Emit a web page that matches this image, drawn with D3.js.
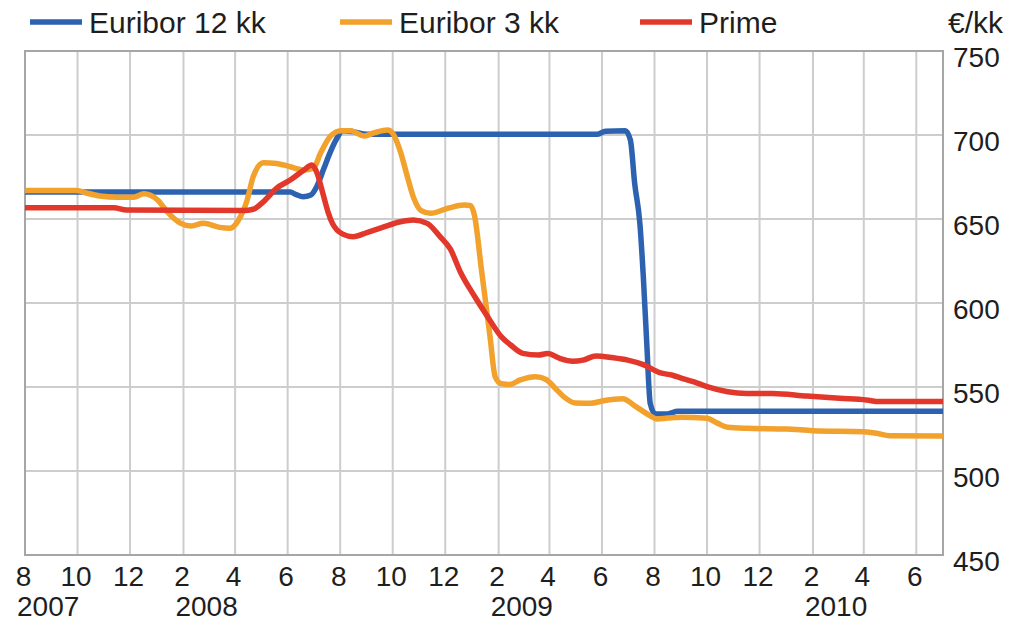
<!DOCTYPE html>
<html>
<head>
<meta charset="utf-8">
<script src="https://cdn.jsdelivr.net/npm/d3@7/dist/d3.min.js"></script>
<style>
  html, body { margin: 0; padding: 0; background: #fff; }
  svg { display: block; font-family: "Liberation Sans", Arial, sans-serif; }
</style>
</head>
<body>
<svg id="chart" width="1017" height="624"></svg>
<script>
// ---- Data ----
const seriesNames = ["Euribor 12 kk", "Euribor 3 kk", "Prime"];
const unitLabel = "€/kk";

const euribor12Dates = ["2007-08-01","2008-06-04","2008-06-11","2008-06-19","2008-06-28","2008-07-05","2008-07-13","2008-07-19","2008-07-27","2008-08-04","2008-08-16","2008-09-01","2009-05-27","2009-06-05","2009-06-28","2009-07-04","2009-07-09","2009-07-15","2009-07-19","2009-07-23","2009-07-27","2009-08-02","2009-08-16","2009-08-28","2010-07-02"];
const euribor12Values = [666,666,664.5,663.3,664.3,669.5,680,688,697,702.6,702,700.5,700.5,702.3,702.6,697,671,647.4,615.7,576,540.3,533.9,534,535.5,535.5];

const euribor3Dates = ["2007-08-01","2007-09-30","2007-10-11","2007-10-27","2007-11-16","2007-12-05","2007-12-17","2008-01-02","2008-01-13","2008-01-29","2008-02-10","2008-02-24","2008-03-14","2008-03-26","2008-04-05","2008-04-15","2008-04-22","2008-05-04","2008-05-19","2008-06-04","2008-06-20","2008-07-01","2008-07-09","2008-07-21","2008-08-02","2008-08-13","2008-08-29","2008-09-10","2008-09-25","2008-10-01","2008-10-10","2008-10-18","2008-10-25","2008-11-03","2008-11-14","2008-12-04","2008-12-23","2008-12-30","2009-01-04","2009-01-12","2009-01-22","2009-01-28","2009-02-04","2009-02-14","2009-02-26","2009-03-16","2009-03-28","2009-04-10","2009-04-17","2009-05-01","2009-05-19","2009-06-04","2009-06-25","2009-07-10","2009-07-25","2009-08-04","2009-08-16","2009-09-01","2009-10-01","2009-10-13","2009-10-25","2009-11-16","2010-01-01","2010-02-01","2010-04-01","2010-04-16","2010-05-01","2010-07-02"];
const euribor3Values = [667,667,665.5,663.7,663,663,665,661.3,654.4,647.4,645.8,647.4,645,644.5,649.4,661.3,675.2,683.5,683.1,681.1,679.2,680.2,689,699.5,702.6,702.5,699.4,701.4,703,701,690,675.2,663,655,653.4,656.4,658.3,658,652,620,580,556,552,551.5,554.2,556.1,554.5,548,544.5,540.5,540.3,542,543,538.5,533.5,531,531.5,532,531.4,528.5,526,525.4,525,524,523.4,522.5,521,520.8];

const primeDates = ["2007-08-01","2007-11-12","2007-11-27","2008-04-11","2008-04-22","2008-05-04","2008-05-19","2008-06-04","2008-06-20","2008-06-29","2008-07-05","2008-07-12","2008-07-18","2008-07-23","2008-08-04","2008-08-16","2008-09-01","2008-09-19","2008-10-10","2008-10-25","2008-11-10","2008-11-25","2008-12-07","2008-12-19","2009-01-04","2009-01-19","2009-02-04","2009-02-15","2009-03-01","2009-03-19","2009-03-30","2009-04-13","2009-04-28","2009-05-10","2009-05-25","2009-06-13","2009-07-01","2009-07-19","2009-08-07","2009-08-22","2009-09-01","2009-09-16","2009-10-01","2009-10-25","2009-11-16","2009-12-16","2010-01-25","2010-03-04","2010-04-04","2010-04-19","2010-07-02"];
const primeValues = [656.7,656.7,655.3,655,655.8,660.3,668.3,673.2,679.2,682.1,677.5,665,654,647.4,641,639.5,641.9,645,648.4,649.4,647.4,639.5,632,618,604,592,580,575,570,569,570,567,565.3,566,568.5,567.5,566,563.3,558.5,557,555.3,553,550.2,547.2,546.2,546.2,544.6,543.3,542.3,541.3,541.3];

const tickDates = ["2007-08-01","2007-10-01","2007-12-01","2008-02-01","2008-04-01","2008-06-01","2008-08-01","2008-10-01","2008-12-01","2009-02-01","2009-04-01","2009-06-01","2009-08-01","2009-10-01","2009-12-01","2010-02-01","2010-04-01","2010-06-01"];
const monthLabels = ["8","10","12","2","4","6","8","10","12","2","4","6","8","10","12","2","4","6"];
const yearLabels = ["2007","","","2008","","","","","","2009","","","","","","2010","",""];
const yTicks = [450,500,550,600,650,700,750];

const domainStart = "2007-08-01";
const domainEnd = "2010-07-02";

// ---- Drawing ----
const parse = d3.timeParse("%Y-%m-%d");
const svg = d3.select("#chart");
const W = 1017, H = 624;
const m = { left: 25, right: 943, top: 51, bottom: 555 };

svg.append("rect").attr("width", W).attr("height", H).attr("fill", "#fff");

const x = d3.scaleTime().domain([parse(domainStart), parse(domainEnd)]).range([m.left, m.right]);
const y = d3.scaleLinear().domain([450, 750]).range([m.bottom, m.top]);

const gridColor = "#cdcdcd";
const frameColor = "#a6a6a6";
const textColor = "#1e1e1e";

// vertical gridlines
svg.append("g").selectAll("line").data(tickDates.slice(1)).join("line")
  .attr("x1", d => x(parse(d))).attr("x2", d => x(parse(d)))
  .attr("y1", m.top).attr("y2", m.bottom)
  .attr("stroke", gridColor).attr("stroke-width", 2);

// horizontal gridlines
svg.append("g").selectAll("line").data(yTicks.slice(1, -1)).join("line")
  .attr("x1", m.left).attr("x2", m.right)
  .attr("y1", d => y(d)).attr("y2", d => y(d))
  .attr("stroke", gridColor).attr("stroke-width", 2);

// frame
svg.append("rect").attr("x", m.left).attr("y", m.top)
  .attr("width", m.right - m.left).attr("height", m.bottom - m.top)
  .attr("fill", "none").attr("stroke", frameColor).attr("stroke-width", 2);

// right y axis labels
const yAxis = d3.axisRight(y).tickValues(yTicks).tickSize(0).tickPadding(10);
const gy = svg.append("g").attr("transform", `translate(${m.right},0)`).call(yAxis);
gy.select(".domain").remove();
gy.selectAll("text").attr("font-size", 28).attr("fill", textColor)
  .attr("font-family", "'Liberation Sans', Arial, sans-serif").attr("dy", "0.55em");

// bottom month labels
const xAxis = d3.axisBottom(x).tickValues(tickDates.map(parse))
  .tickFormat((d, i) => monthLabels[i]).tickSize(0).tickPadding(11);
const gx = svg.append("g").attr("transform", `translate(-2,${m.bottom})`).call(xAxis);
gx.select(".domain").remove();
gx.selectAll("text").attr("font-size", 28).attr("fill", textColor)
  .attr("font-family", "'Liberation Sans', Arial, sans-serif");

// year labels
svg.append("g").selectAll("text").data(tickDates.map((d, i) => ({ d, label: yearLabels[i] })).filter(o => o.label))
  .join("text")
  .attr("x", o => x(parse(o.d)) - 8).attr("y", 616)
  .attr("font-size", 28).attr("fill", textColor).attr("text-anchor", "start")
  .text(o => o.label);

// series lines
const colors = ["#2c62b0", "#f2a12c", "#e2382b"];
const series = [
  { name: seriesNames[0], dates: euribor12Dates, values: euribor12Values, color: colors[0] },
  { name: seriesNames[1], dates: euribor3Dates, values: euribor3Values, color: colors[1] },
  { name: seriesNames[2], dates: primeDates, values: primeValues, color: colors[2] }
];
const line = d3.line().x(d => x(d[0])).y(d => y(d[1])).curve(d3.curveMonotoneX);
svg.append("g").selectAll("path").data(series).join("path")
  .attr("d", s => line(s.dates.map((d, i) => [parse(d), s.values[i]])))
  .attr("fill", "none").attr("stroke", s => s.color).attr("stroke-width", 5.5)
  .attr("stroke-linejoin", "round").attr("stroke-linecap", "butt");

// legend
const legendX = [30, 340, 640];
const lg = svg.append("g").selectAll("g").data(series).join("g")
  .attr("transform", (s, i) => `translate(${legendX[i]},0)`);
lg.append("line").attr("x1", 0).attr("x2", 52).attr("y1", 22).attr("y2", 22)
  .attr("stroke", s => s.color).attr("stroke-width", 5.5);
lg.append("text").attr("x", 59).attr("y", 33).attr("font-size", 30).attr("fill", textColor)
  .text(s => s.name);

svg.append("text").attr("x", 948).attr("y", 33).attr("font-size", 30).attr("fill", textColor)
  .text(unitLabel);
</script>
</body>
</html>
